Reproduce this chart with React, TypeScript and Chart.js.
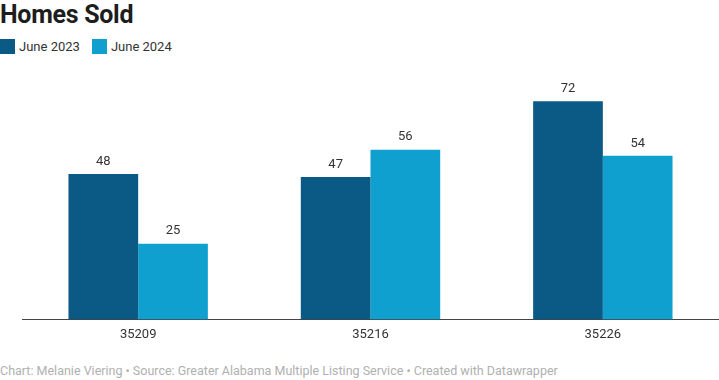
import React, { useEffect, useRef } from "react";
import { Chart, registerables } from "chart.js";

Chart.register(...registerables);

const categories = ["35209", "35216", "35226"];
const june2023 = [48, 47, 72];
const june2024 = [25, 56, 54];
const seriesNames = ["June 2023", "June 2024"];
const colors = ["#0b5a86", "#10a0cf"];

const valueLabels = {
  id: "valueLabels",
  afterDatasetsDraw(chart: any) {
    const ctx = chart.ctx;
    ctx.save();
    ctx.font = "13px Roboto";
    ctx.fillStyle = "#333333";
    ctx.textAlign = "center";
    ctx.textBaseline = "bottom";
    chart.data.datasets.forEach((ds: any, i: number) => {
      const meta = chart.getDatasetMeta(i);
      meta.data.forEach((bar: any, j: number) => {
        ctx.fillText(String(ds.data[j]), bar.x, bar.y - 6);
      });
    });
    ctx.restore();
  },
};

export default function App() {
  const ref = useRef<HTMLCanvasElement>(null);
  useEffect(() => {
    const chart = new Chart(ref.current!, {
      type: "bar",
      data: {
        labels: categories,
        datasets: [
          { label: seriesNames[0], data: june2023, backgroundColor: colors[0] },
          { label: seriesNames[1], data: june2024, backgroundColor: colors[1] },
        ],
      },
      options: {
        animation: false,
        responsive: false,
        layout: { padding: { left: 22, right: 0, top: 17, bottom: 8 } },
        plugins: { legend: { display: false }, tooltip: { enabled: false } },
        datasets: { bar: { categoryPercentage: 0.6, barPercentage: 1 } },
        scales: {
          x: {
            grid: { display: false },
            border: { display: true, color: "#444444", width: 1 },
            ticks: { color: "#333333", font: { family: "Roboto", size: 13 }, padding: 0 },
          },
          y: { display: false, min: 0, max: 80 },
        },
      },
      plugins: [valueLabels],
    });
    return () => chart.destroy();
  }, []);

  return (
    <div style={{ position: "fixed", left: 0, top: 0, width: 719, height: 380, background: "#fff", fontFamily: "Roboto", overflow: "hidden" }}>
      <div style={{ position: "absolute", left: 0, top: 0, fontSize: 25, fontWeight: 700, color: "#1d1d1d", letterSpacing: -0.3 }}>Homes Sold</div>
      <div style={{ position: "absolute", left: 0, top: 39, display: "flex", alignItems: "center", fontSize: 13, color: "#333" }}>
        <span style={{ width: 15, height: 15, background: colors[0], display: "inline-block", marginRight: 4 }} />
        <span style={{ marginRight: 12 }}>{seriesNames[0]}</span>
        <span style={{ width: 15, height: 15, background: colors[1], display: "inline-block", marginRight: 4 }} />
        <span>{seriesNames[1]}</span>
      </div>
      <canvas ref={ref} width={719} height={291} style={{ position: "absolute", left: 0, top: 60 }} />
      <div style={{ position: "absolute", left: 0, top: 363, fontSize: 12.5, color: "#b0b0b0" }}>
        Chart: Melanie Viering • Source: Greater Alabama Multiple Listing Service • Created with Datawrapper
      </div>
    </div>
  );
}
